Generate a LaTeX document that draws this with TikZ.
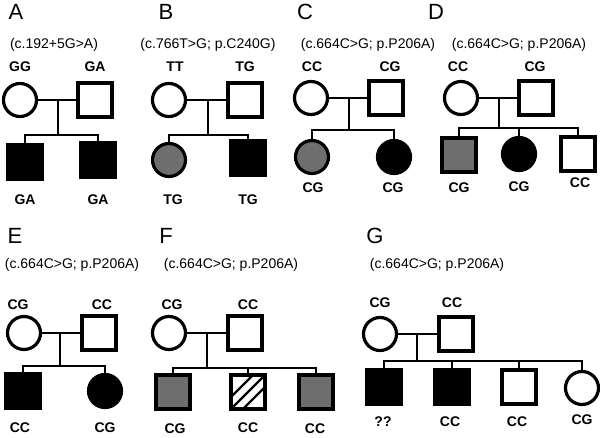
\documentclass[tikz,border=0pt]{standalone}
\usepackage{fontspec}
\setmainfont{Liberation Sans}
\usepackage{tikz}
\definecolor{midgray}{HTML}{6E6E6E}

\begin{document}
\begin{tikzpicture}[x=1pt,y=-1pt,
    link/.style={line width=2.8pt},
    person/.style={draw, line width=3.2pt, inner sep=0pt, fill=white},
    male/.style={person, rectangle, minimum size=34pt},
    female/.style={person, circle, minimum size=33pt},
    aff/.style={fill=black},
    part/.style={fill=midgray},
    hatch/.style={path picture={
        \foreach \c in {-12,0,12}
          \draw[line width=2.4pt] ([xshift=\c pt]path picture bounding box.south west)
            -- ([xshift=\c pt]path picture bounding box.north east);}},
    geno/.style={font=\bfseries\fontsize{14}{14}\selectfont},
    mut/.style={font=\fontsize{14}{14}\selectfont},
    panel/.style={font=\fontsize{22}{22}\selectfont}]

        \useasboundingbox (0,0) rectangle (600,438);

        % A
        \node[panel] (A) at (16,12) {A};
        \node[mut] (Am) at (54,45) {(c.192+5G>A)};
        \node[female] (a1) at (20,100) {};
        \node[male] (a2) at (95,100) {};
        \node[male,aff] (a3) at (25,162) {};
        \node[male,aff] (a4) at (98,160) {};
        \coordinate (am) at (58,100);
        \coordinate (as) at (58,135);
        \draw[link] (a1) -- (a2);
        \draw[link] (am) -- (as);
        \draw[link] (a3) -- (a3 |- as) -- (a4 |- as) -- (a4);
        \node[geno] (a1g) at (20,67) {GG};
        \node[geno] (a2g) at (95,67) {GA};
        \node[geno] (a3g) at (25,200) {GA};
        \node[geno] (a4g) at (98,200) {GA};

        % B
        \node[panel] (B) at (166,12) {B};
        \node[mut] (Bm) at (208,45) {(c.766T>G; p.C240G)};
        \node[female] (b1) at (169,100) {};
        \node[male] (b2) at (245,100) {};
        \node[female,part] (b3) at (169,160) {};
        \node[male,aff] (b4) at (248,158) {};
        \coordinate (bm) at (208,100);
        \coordinate (bs) at (208,135);
        \draw[link] (b1) -- (b2);
        \draw[link] (bm) -- (bs);
        \draw[link] (b3) -- (b3 |- bs) -- (b4 |- bs) -- (b4);
        \node[geno] (b1g) at (175,67) {TT};
        \node[geno] (b2g) at (245,67) {TG};
        \node[geno] (b3g) at (173,200) {TG};
        \node[geno] (b4g) at (248,200) {TG};

        % C
        \node[panel] (C) at (305,12) {C};
        \node[mut] (Cm) at (368,45) {(c.664C>G; p.P206A)};
        \node[female] (c1) at (311,98) {};
        \node[male] (c2) at (386,98) {};
        \node[female,part] (c3) at (312,157) {};
        \node[female,aff] (c4) at (394,157) {};
        \coordinate (cm) at (349,98);
        \coordinate (cs) at (349,130);
        \draw[link] (c1) -- (c2);
        \draw[link] (cm) -- (cs);
        \draw[link] (c3) -- (c3 |- cs) -- (c4 |- cs) -- (c4);
        \node[geno] (c1g) at (312,67) {CC};
        \node[geno] (c2g) at (390,67) {CG};
        \node[geno] (c3g) at (313,188) {CG};
        \node[geno] (c4g) at (393,188) {CG};

        % D
        \node[panel] (D) at (436,12) {D};
        \node[mut] (Dm) at (519,45) {(c.664C>G; p.P206A)};
        \node[female] (d1) at (461,98) {};
        \node[male] (d2) at (536,98) {};
        \node[male,part] (d3) at (459,155) {};
        \node[female,aff] (d4) at (519,154) {};
        \node[male] (d5) at (578,154) {};
        \coordinate (dm) at (499,98);
        \coordinate (ds) at (499,128);
        \draw[link] (d1) -- (d2);
        \draw[link] (dm) -- (ds);
        \draw[link] (d3) -- (d3 |- ds) -- (d5 |- ds) -- (d5);
        \draw[link] (d4 |- ds) -- (d4);
        \node[geno] (d1g) at (458,67) {CC};
        \node[geno] (d2g) at (535,67) {CG};
        \node[geno] (d3g) at (459,188) {CG};
        \node[geno] (d4g) at (519,187) {CG};
        \node[geno] (d5g) at (580,183) {CC};

        % E
        \node[panel] (E) at (15,236) {E};
        \node[mut] (Em) at (72,265) {(c.664C>G; p.P206A)};
        \node[female] (e1) at (24,333) {};
        \node[male] (e2) at (99,333) {};
        \node[male,aff] (e3) at (23,391) {};
        \node[female,aff] (e4) at (105,391) {};
        \coordinate (em) at (60,333);
        \coordinate (es) at (60,366);
        \draw[link] (e1) -- (e2);
        \draw[link] (em) -- (es);
        \draw[link] (e3) -- (e3 |- es) -- (e4 |- es) -- (e4);
        \node[geno] (e1g) at (18,305) {CG};
        \node[geno] (e2g) at (102,305) {CC};
        \node[geno] (e3g) at (20,428) {CC};
        \node[geno] (e4g) at (105,428) {CG};

        % F
        \node[panel] (F) at (166,236) {F};
        \node[mut] (Fm) at (231,265) {(c.664C>G; p.P206A)};
        \node[female] (f1) at (169,333) {};
        \node[male] (f2) at (245,333) {};
        \node[male,part] (f3) at (173,392) {};
        \node[male,hatch] (f4) at (248,392) {};
        \node[male,part] (f5) at (316,392) {};
        \coordinate (fm) at (207,333);
        \coordinate (fs) at (207,368);
        \draw[link] (f1) -- (f2);
        \draw[link] (fm) -- (fs);
        \draw[link] (f3) -- (f3 |- fs) -- (f5 |- fs) -- (f5);
        \draw[link] (f4 |- fs) -- (f4);
        \node[geno] (f1g) at (172,305) {CG};
        \node[geno] (f2g) at (248,305) {CC};
        \node[geno] (f3g) at (175,429) {CG};
        \node[geno] (f4g) at (248,428) {CC};
        \node[geno] (f5g) at (315,429) {CC};

        % G
        \node[panel] (G) at (375,236) {G};
        \node[mut] (Gm) at (437,265) {(c.664C>G; p.P206A)};
        \node[female] (g1) at (380,334) {};
        \node[male] (g2) at (456,334) {};
        \node[male,aff] (g3) at (384,387) {};
        \node[male,aff] (g4) at (452,387) {};
        \node[male] (g5) at (519,387) {};
        \node[female] (g6) at (582,388) {};
        \coordinate (gm) at (417,334);
        \coordinate (gs) at (417,361);
        \draw[link] (g1) -- (g2);
        \draw[link] (gm) -- (gs);
        \draw[link] (g3) -- (g3 |- gs) -- (g6 |- gs) -- (g6);
        \draw[link] (g4 |- gs) -- (g4);
        \draw[link] (g5 |- gs) -- (g5);
        \node[geno] (g1g) at (380,303) {CG};
        \node[geno] (g2g) at (452,303) {CC};
        \node[geno] (g3g) at (383,422) {??};
        \node[geno] (g4g) at (450,422) {CC};
        \node[geno] (g5g) at (517,422) {CC};
        \node[geno] (g6g) at (582,420) {CG};
\end{tikzpicture}
\end{document}
